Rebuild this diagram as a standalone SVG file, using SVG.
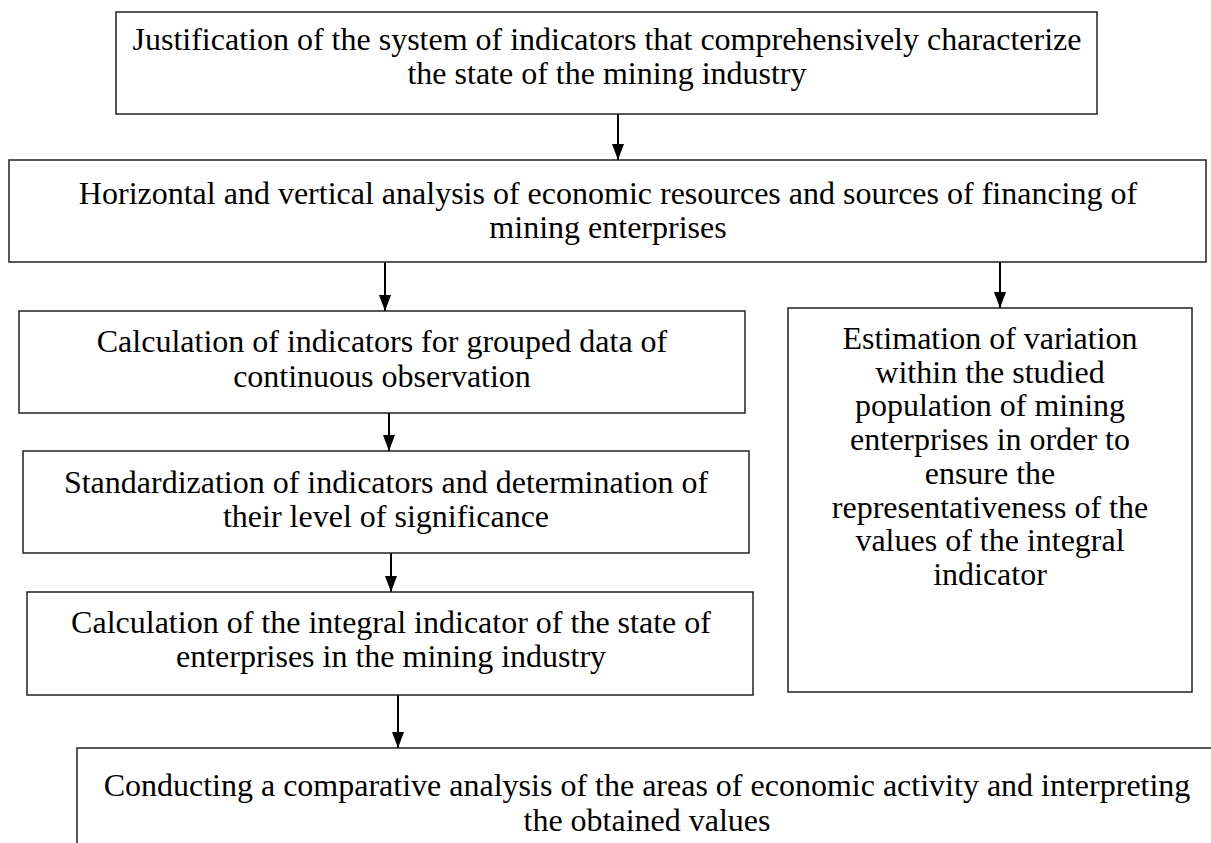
<svg xmlns="http://www.w3.org/2000/svg" width="1211" height="843" viewBox="0 0 1211 843">
<style>
.box{fill:#fff;stroke:#222;stroke-width:1.5}
.t{font-family:"Liberation Serif","Times New Roman",serif;font-size:32px;fill:#000;text-anchor:middle}
.c{stroke:#000;stroke-width:2;fill:none;marker-end:url(#ah)}
</style>
<defs>
<marker id="ah" markerWidth="16" markerHeight="12" refX="16" refY="6" orient="auto" markerUnits="userSpaceOnUse" viewBox="0 0 16 12">
<path d="M0,0 L16,6 L0,12 Z" fill="#000"/>
</marker>
</defs>
<rect width="1211" height="843" fill="#fff"/>
<g id="connectors">
<line class="c" x1="618" y1="114" x2="618" y2="160"/>
<line class="c" x1="385" y1="262" x2="385" y2="311"/>
<line class="c" x1="1000" y1="262" x2="1000" y2="308"/>
<line class="c" x1="389" y1="413" x2="389" y2="451"/>
<line class="c" x1="391" y1="553" x2="391" y2="592"/>
<line class="c" x1="398" y1="695" x2="398" y2="748"/>
</g>
<g id="n1">
<rect class="box" x="116" y="12" width="981" height="102"/>
<text class="t" x="607" y="50">Justification of the system of indicators that comprehensively characterize</text>
<text class="t" x="607" y="84">the state of the mining industry</text>
</g>
<g id="n2">
<rect class="box" x="9" y="160" width="1197" height="102"/>
<text class="t" x="608" y="204">Horizontal and vertical analysis of economic resources and sources of financing of</text>
<text class="t" x="608" y="238">mining enterprises</text>
</g>
<g id="n3">
<rect class="box" x="19" y="311" width="726" height="102"/>
<text class="t" x="382" y="352">Calculation of indicators for grouped data of</text>
<text class="t" x="382" y="387">continuous observation</text>
</g>
<g id="n4">
<rect class="box" x="23" y="451" width="726" height="102"/>
<text class="t" x="386" y="493">Standardization of indicators and determination of</text>
<text class="t" x="386" y="527">their level of significance</text>
</g>
<g id="n5">
<rect class="box" x="27" y="592" width="726" height="103"/>
<text class="t" x="391" y="633">Calculation of the integral indicator of the state of</text>
<text class="t" x="391" y="667">enterprises in the mining industry</text>
</g>
<g id="n6">
<rect class="box" x="788" y="308" width="404" height="384"/>
<text class="t" x="990" y="349">Estimation of variation</text>
<text class="t" x="990" y="383">within the studied</text>
<text class="t" x="990" y="416">population of mining</text>
<text class="t" x="990" y="450">enterprises in order to</text>
<text class="t" x="990" y="484">ensure the</text>
<text class="t" x="990" y="518">representativeness of the</text>
<text class="t" x="990" y="551">values of the integral</text>
<text class="t" x="990" y="585">indicator</text>
</g>
<g id="n7">
<rect class="box" x="77" y="748" width="1160" height="120"/>
<text class="t" x="647" y="796">Conducting a comparative analysis of the areas of economic activity and interpreting</text>
<text class="t" x="647" y="831">the obtained values</text>
</g>
</svg>
